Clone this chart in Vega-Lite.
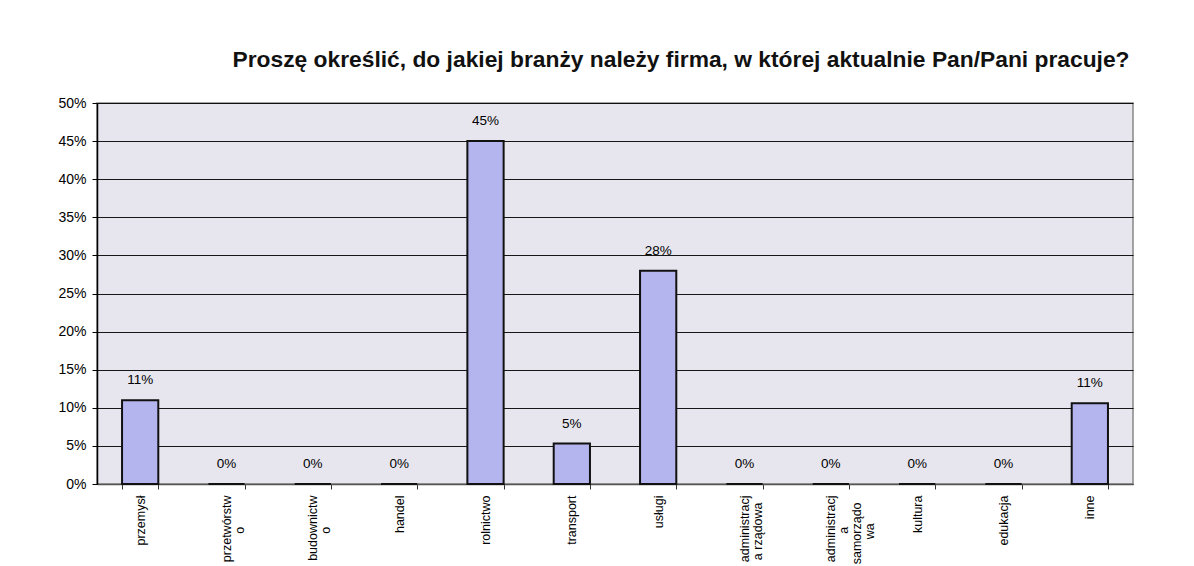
{
  "$schema": "https://vega.github.io/schema/vega-lite/v6.json",
  "autosize": {"type": "none"},
  "padding": {"left": 97, "top": 103, "right": 61, "bottom": 82},
  "width": 1036,
  "height": 381,
  "background": "#ffffff",
  "title": {
    "text": "Proszę określić, do jakiej branży należy firma, w której aktualnie Pan/Pani pracuje?",
    "font": "Liberation Sans",
    "fontSize": 22.8,
    "fontWeight": "bold",
    "color": "#111111",
    "anchor": "middle",
    "baseline": "alphabetic",
    "dx": 66,
    "offset": 6
  },
  "data": {
    "values": [
      {"branza": "przemysł", "udzial": 0.11},
      {"branza": "przetwórstwo", "udzial": 0},
      {"branza": "budownictwo", "udzial": 0},
      {"branza": "handel", "udzial": 0},
      {"branza": "rolnictwo", "udzial": 0.45},
      {"branza": "transport", "udzial": 0.053},
      {"branza": "usługi", "udzial": 0.28},
      {"branza": "administracja rządowa", "udzial": 0},
      {"branza": "administracja samorządowa", "udzial": 0},
      {"branza": "kultura", "udzial": 0},
      {"branza": "edukacja", "udzial": 0},
      {"branza": "inne", "udzial": 0.106}
    ]
  },
  "encoding": {
    "x": {
      "field": "branza",
      "type": "nominal",
      "sort": null,
      "title": null,
      "scale": {"paddingInner": 0.58, "paddingOuter": 0.29},
      "axis": {
        "labelAngle": -90,
        "labelFont": "Liberation Sans",
        "labelFontSize": 12.5,
        "labelColor": "#000000",
        "labelPadding": 6,
        "labelLineHeight": 13,
        "labelLimit": 200,
        "labelExpr": "datum.value == 'przetwórstwo' ? ['przetwórstw', 'o\u00a0\u00a0\u00a0\u00a0\u00a0\u00a0\u00a0\u00a0\u00a0\u200b'] : datum.value == 'budownictwo' ? ['budownictw', 'o\u00a0\u00a0\u00a0\u00a0\u00a0\u00a0\u00a0\u00a0\u00a0\u200b'] : datum.value == 'administracja rządowa' ? ['administracj', 'a rządowa\u00a0\u00a0\u200b'] : datum.value == 'administracja samorządowa' ? ['administracj', 'a\u00a0\u00a0\u00a0\u00a0\u00a0\u00a0\u00a0\u00a0\u00a0\u200b', 'samorządo\u00a0\u00a0\u200b', 'wa\u00a0\u00a0\u00a0\u00a0\u00a0\u00a0\u00a0\u00a0\u200b'] : datum.value",
        "tickBand": "extent",
        "tickSize": 5,
        "tickColor": "#333333",
        "domainColor": "#555555",
        "domainWidth": 1.5,
        "grid": false
      }
    },
    "y": {
      "field": "udzial",
      "type": "quantitative",
      "title": null,
      "scale": {"domain": [0, 0.5], "nice": false},
      "axis": {
        "format": ".0%",
        "values": [0, 0.05, 0.1, 0.15, 0.2, 0.25, 0.3, 0.35, 0.4, 0.45, 0.5],
        "labelFont": "Liberation Sans",
        "labelFontSize": 14,
        "labelColor": "#000000",
        "labelPadding": 6,
        "tickSize": 5,
        "tickColor": "#000000",
        "domainColor": "#000000",
        "domainWidth": 1.5,
        "grid": true,
        "gridColor": "#000000",
        "gridWidth": 1.2,
        "gridOpacity": 0.9
      }
    }
  },
  "layer": [
    {
      "mark": {"type": "bar", "color": "#b4b4ee", "stroke": "#111111", "strokeWidth": 2}
    },
    {
      "mark": {
        "type": "text",
        "baseline": "bottom",
        "dy": -13,
        "font": "Liberation Sans",
        "fontSize": 13.5,
        "color": "#000000"
      },
      "encoding": {
        "text": {"field": "udzial", "type": "quantitative", "format": ".0%"}
      }
    }
  ],
  "config": {
    "view": {"fill": "#e7e6ee", "stroke": "#888888", "strokeWidth": 1.5}
  }
}
